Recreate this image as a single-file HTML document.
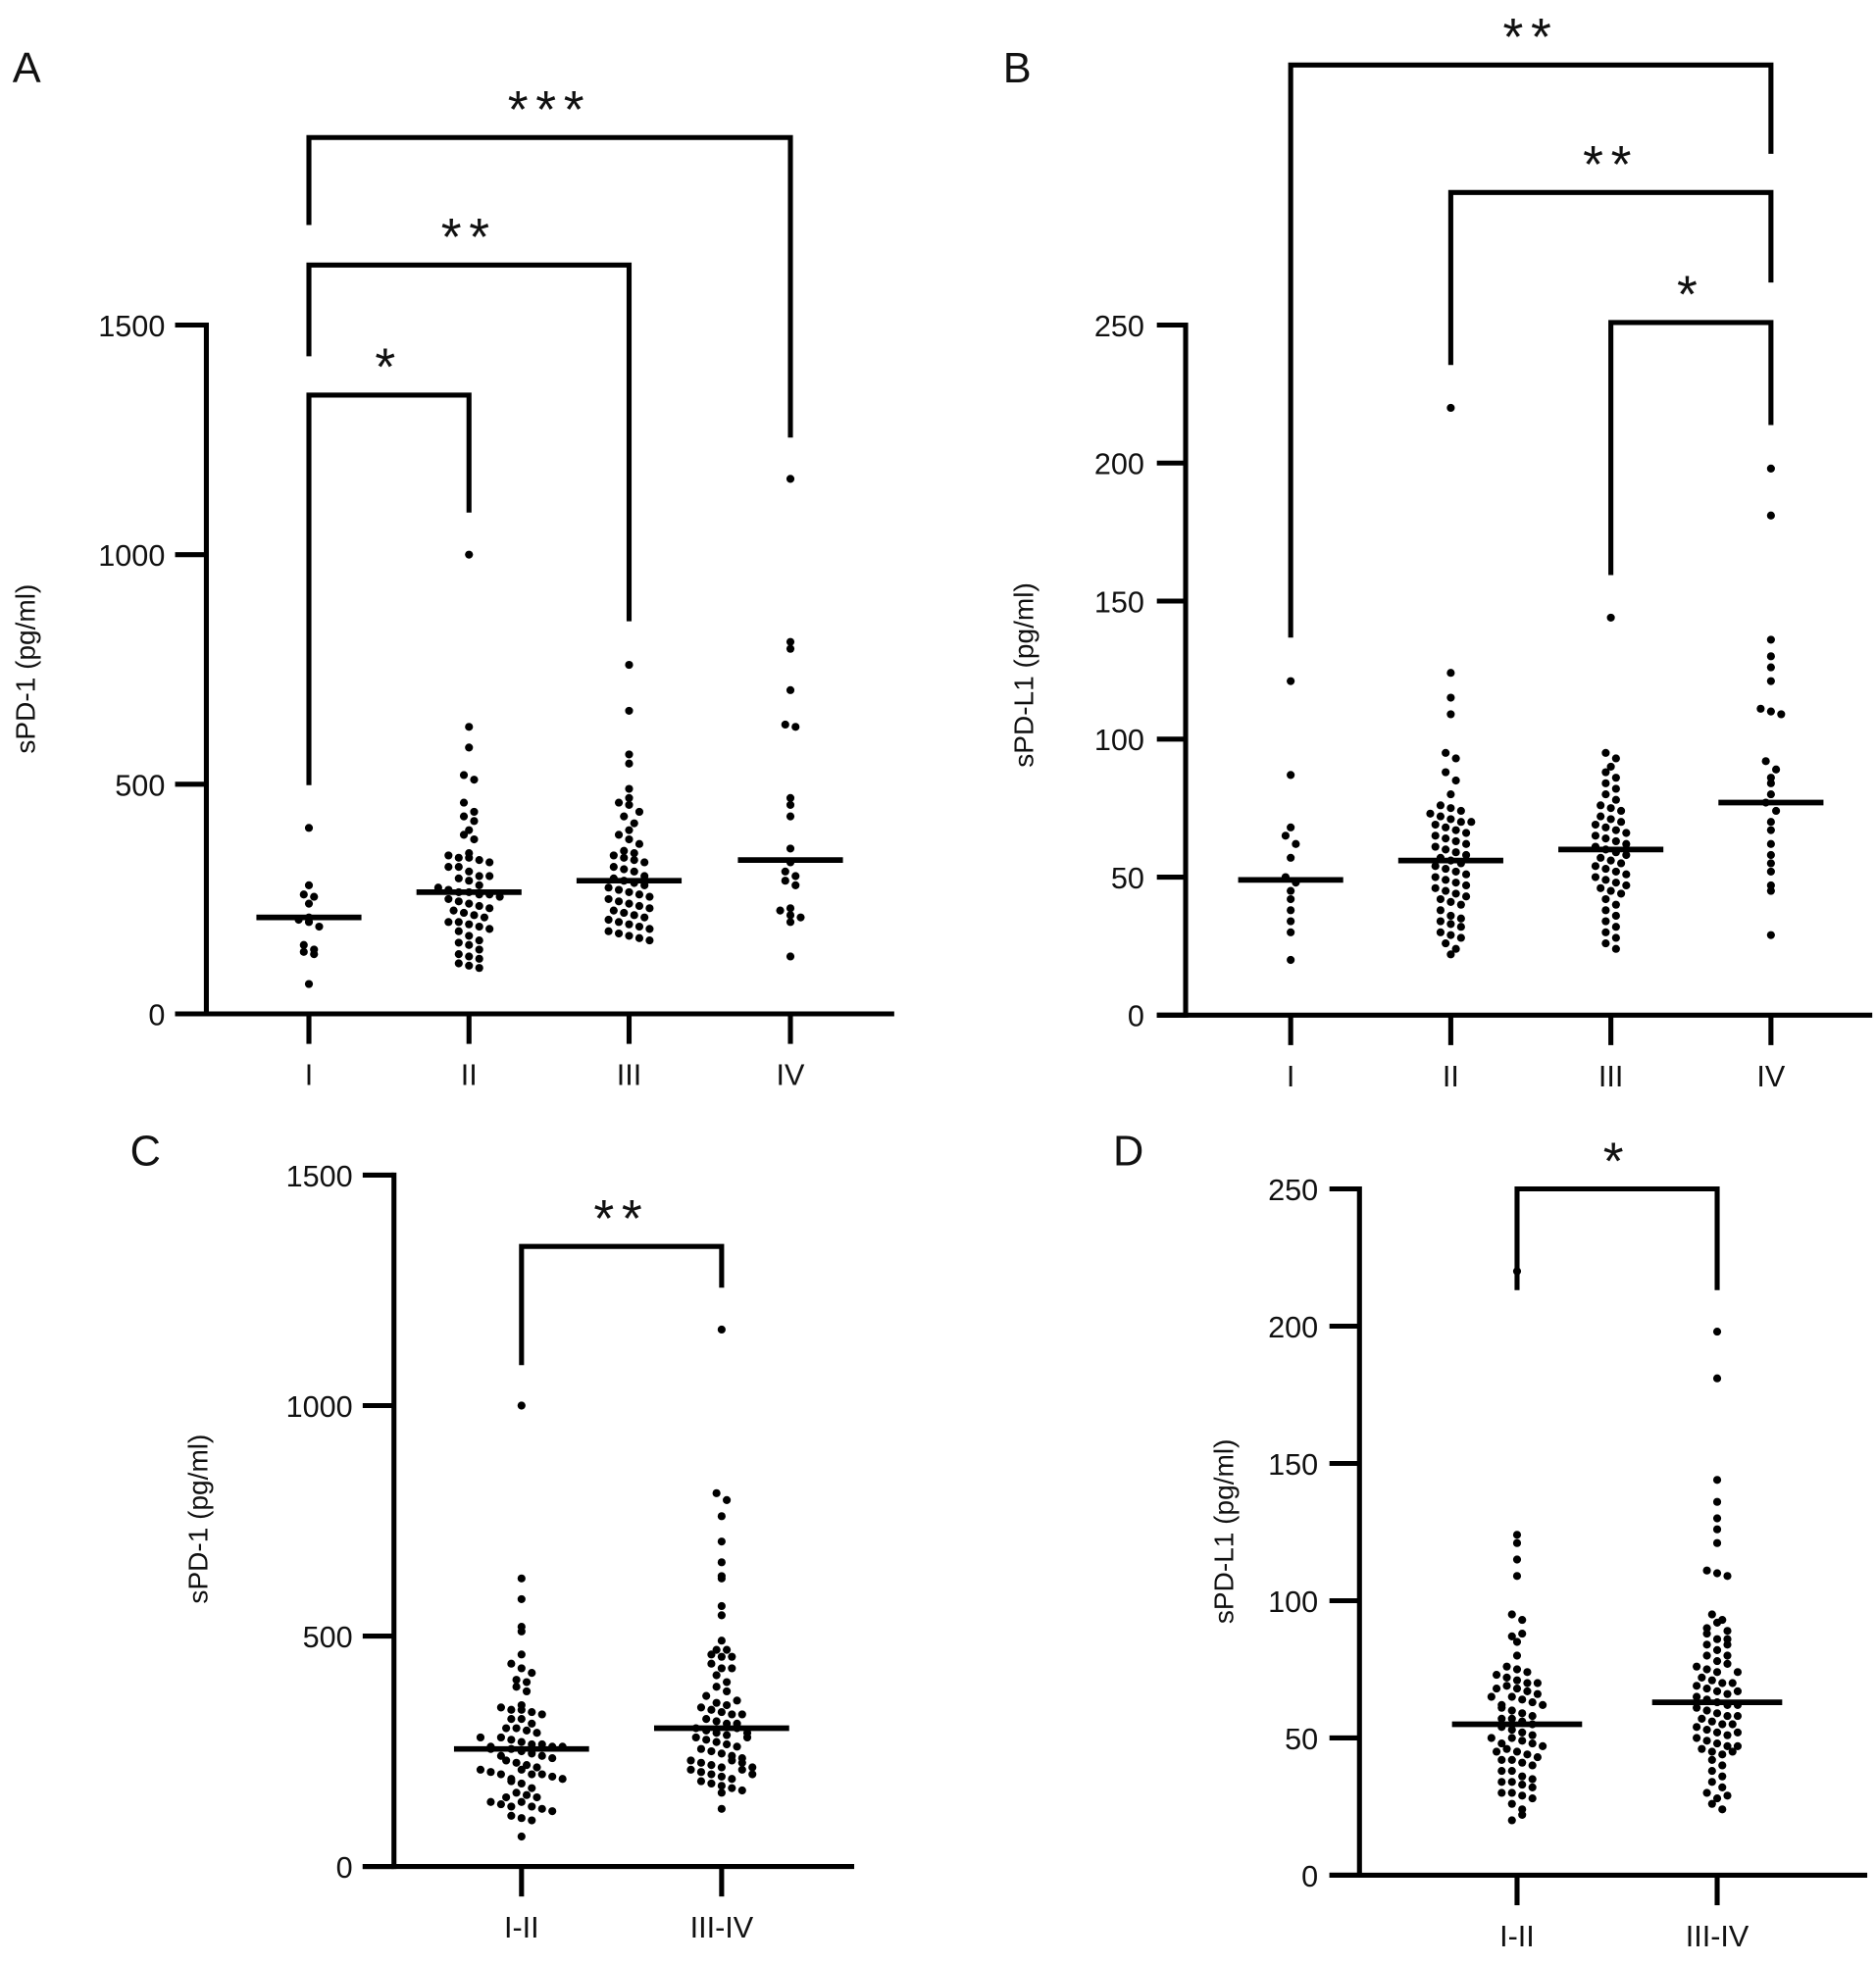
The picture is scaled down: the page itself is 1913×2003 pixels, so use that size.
<!DOCTYPE html>
<html><head><meta charset="utf-8"><style>
html,body{margin:0;padding:0;background:#fff;}
svg{display:block;}
text{font-family:"Liberation Sans",sans-serif;fill:#111;}
</style></head><body>
<svg id="fig" width="1913" height="2003" viewBox="0 0 1500 1571" preserveAspectRatio="none" xmlns="http://www.w3.org/2000/svg"></svg>
<script>
// ---- data ----
const stageCats = ["I","II","III","IV"];
const groupCats = ["I-II","III-IV"];
const pd1_I = [405,280,260,255,240,210,205,200,190,150,140,135,130,65];
const pd1_II = [1000,625,580,520,510,460,440,430,420,400,390,380,350,345,340,340,335,330,320,320,310,300,300,295,290,280,275,270,265,265,260,260,255,250,245,240,235,230,225,220,215,210,200,200,195,190,185,180,170,160,155,150,140,130,125,120,110,105,100];
const pd1_III = [760,660,565,545,490,470,460,455,440,430,415,400,390,380,370,355,350,345,340,335,330,320,315,310,300,295,290,285,280,275,270,265,260,255,250,245,240,235,230,225,220,215,210,205,200,195,190,185,180,175,170,165,160];
const pd1_IV = [1165,810,795,705,630,625,470,455,430,360,330,310,300,290,280,230,225,215,210,200,125];
const pdl1_I = [121,87,68,65,62,57,50,48,45,42,38,34,30,20];
const pdl1_II = [220,124,115,109,95,93,88,85,80,76,75,74,73,72,71,70,70,69,68,67,66,65,64,63,62,61,60,59,58,57,56,55,54,53,52,51,50,49,48,47,46,45,44,43,42,41,40,38,36,35,34,33,32,30,29,28,26,24,22];
const pdl1_III = [144,95,93,90,88,86,84,82,80,78,76,75,74,72,71,70,69,68,67,66,65,64,63,62,61,60,59,58,57,56,55,54,53,52,51,50,49,48,47,46,45,44,42,40,38,36,34,32,30,28,26,24];
const pdl1_IV = [198,181,136,130,126,121,111,110,109,92,89,86,84,80,77,74,70,67,62,58,55,52,47,45,29];
const medA = [210,265,290,335];
const medB = [49,56,60,77];
const medC = [255,300];
const medD = [55,63];
const ticksPD1 = [0,500,1000,1500];
const ticksPDL1 = [0,50,100,150,200,250];

const svg = document.getElementById('fig');
const NS = "http://www.w3.org/2000/svg";
function el(tag, attrs, parent){
  const e = document.createElementNS(NS, tag);
  for (const k in attrs) e.setAttribute(k, attrs[k]);
  (parent||svg).appendChild(e);
  return e;
}

function panel(cfg){
  const g = el('g', {});
  
  
  const y = v => cfg.y0 + (cfg.y1 - cfg.y0) * (v / cfg.vmax);
  const x = i => cfg.xs[i];
  const ya = el('line', {x1:cfg.ax, y1:cfg.y1-2, x2:cfg.ax, y2:cfg.y0+2, stroke:'#000','stroke-width':4}, g);
   
  const xa = el('line', {x1:cfg.xl, y1:cfg.y0, x2:cfg.xr, y2:cfg.y0, stroke:'#000','stroke-width':4}, g);
   
  cfg.ticks.forEach(t => {
    el('line', {x1:cfg.xl, y1:y(t), x2:cfg.ax, y2:y(t), stroke:'#000','stroke-width':4}, g);
    const tx = el('text', {x:cfg.ax-33, y:y(t)+9, 'text-anchor':'end','font-size':24}, g);
    tx.textContent = t;
     
  });
  cfg.cats.forEach((c,i) => {
    el('line', {x1:x(i), y1:cfg.y0, x2:x(i), y2:cfg.y0+24, stroke:'#000','stroke-width':4}, g);
    const tx = el('text', {x:x(i), y:cfg.y0+57, 'text-anchor':'middle','font-size':24}, g);
    tx.textContent = c;
     
  });
  const yt = el('text', {x:0, y:0, 'text-anchor':'middle','font-size':22, transform:`translate(${cfg.ytx},${cfg.yty}) rotate(-90)`}, g);
  yt.textContent = cfg.ytitle;
   
  const lt = el('text', {x:cfg.lx, y:cfg.ly, 'font-size':34}, g);
  lt.textContent = cfg.letter;
   
  // dots: binned swarm
  const r = 3.2, dx = 8.2, bh = 8.5;
  cfg.series.forEach((vals, i) => {
    const bins = {};
    vals.forEach(v => {
      const b = Math.round(y(v) / bh);
      (bins[b] = bins[b] || []).push(v);
    });
    Object.keys(bins).forEach(b => {
      const list = bins[b];
      const n = list.length;
      list.forEach((v, k) => {
        const off = (k - (n - 1) / 2) * dx;
        const c = el('circle', {cx:x(i)+off, cy:y(v), r:r, fill:'#000'}, g);
         
      });
    });
    const m = el('line', {x1:x(i)-cfg.mw, y1:y(cfg.med[i]), x2:x(i)+cfg.mw, y2:y(cfg.med[i]), stroke:'#000','stroke-width':4.5}, g);
     
  });
  cfg.brackets.forEach(b => {
    const p = el('path', {d:`M${x(b[0])},${b[3]} L${x(b[0])},${b[2]} L${x(b[1])},${b[2]} L${x(b[1])},${b[4]}`, fill:'none', stroke:'#000','stroke-width':4}, g);
     
    const s = el('text', {x:(x(b[0])+x(b[1]))/2, y:b[2]-8, 'text-anchor':'middle','font-size':42,'letter-spacing':'6'}, g);
    s.textContent = b[5];
     
  });
}

panel({name:'panel-a', letter:'A', lx:10, ly:66, ax:165, xl:140, xr:715, y0:811, y1:260, vmax:1500,
  xs:[247,375,503,632], cats:stageCats, ticks:ticksPD1, ytitle:'sPD-1 (pg/ml)', ytx:28, yty:535,
  series:[pd1_I,pd1_II,pd1_III,pd1_IV], med:medA, mw:42,
  brackets:[[0,3,110,180,350,'***'],[0,2,212,285,497,'**'],[0,1,316,628,410,'*']]});
panel({name:'panel-b', letter:'B', lx:802, ly:66, ax:948, xl:925, xr:1497, y0:812, y1:260, vmax:250,
  xs:[1032,1160,1288,1416], cats:stageCats, ticks:ticksPDL1, ytitle:'sPD-L1 (pg/ml)', ytx:826, yty:540,
  series:[pdl1_I,pdl1_II,pdl1_III,pdl1_IV], med:medB, mw:42,
  brackets:[[0,3,52,510,123,'**'],[1,3,154,292,226,'**'],[2,3,258,460,340,'*']]});
panel({name:'panel-c', letter:'C', lx:104, ly:932, ax:315, xl:290, xr:683, y0:1493, y1:940, vmax:1500,
  xs:[417,577], cats:groupCats, ticks:ticksPD1, ytitle:'sPD-1 (pg/ml)', ytx:166, yty:1215,
  series:[pd1_I.concat(pd1_II), pd1_III.concat(pd1_IV)], med:medC, mw:54,
  brackets:[[0,1,997,1092,1030,'**']]});
panel({name:'panel-d', letter:'D', lx:890, ly:932, ax:1087, xl:1063, xr:1493, y0:1500, y1:951, vmax:250,
  xs:[1213,1373], cats:groupCats, ticks:ticksPDL1, ytitle:'sPD-L1 (pg/ml)', ytx:986, yty:1225,
  series:[pdl1_I.concat(pdl1_II), pdl1_III.concat(pdl1_IV)], med:medD, mw:52,
  brackets:[[0,1,951,1032,1032,'*']]});
</script>
</body></html>
